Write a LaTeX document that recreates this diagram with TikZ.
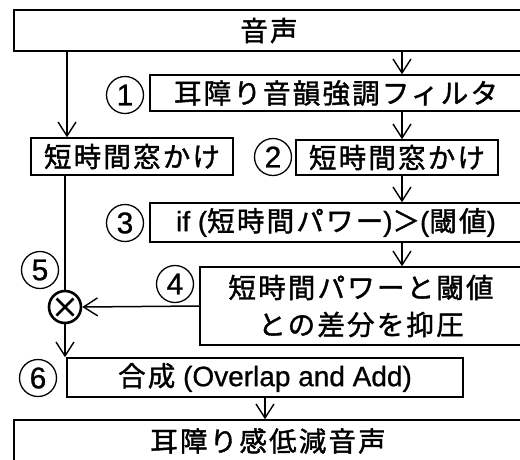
\documentclass[tikz,border=0pt]{standalone}
\usepackage{fontspec}
\setmainfont{Liberation Sans}[FakeBold=0.8]
\newfontfamily\jp[LetterSpace=8,FakeBold=1.4]{Noto Sans CJK JP}
\usetikzlibrary{arrows.meta}
\begin{document}
\begin{tikzpicture}[x=1pt,y=-1pt,line width=1.5pt,
  blk/.style={draw,rectangle,inner sep=0pt,font=\fontsize{27.5}{37}\selectfont\jp},
  lat/.style={font=\fontsize{28}{30}\selectfont\rmfamily},
  num/.style={draw,circle,line width=1.3pt,minimum size=37pt,inner sep=0pt,font=\fontsize{30}{30}\selectfont},
  arr/.style={-{Straight Barb[length=14pt,width=18pt,line width=1.4pt]}},
  mul/.style={draw,circle,line width=2.6pt,minimum size=32pt,inner sep=0pt}]
\useasboundingbox (0,0) rectangle (520,459);
\node[blk,minimum width=510pt,minimum height=41pt] (A) at (269,30.5) {音声};
\node[blk,minimum width=372pt,minimum height=36pt] (B) at (336,93) {耳障り音韻強調フィルタ};
\node[blk,minimum width=202pt,minimum height=37pt] (C) at (132,156.5) {短時間窓かけ};
\node[blk,minimum width=202pt,minimum height=35pt] (D) at (397,157.5) {短時間窓かけ};
\node[blk,minimum width=372pt,minimum height=39pt] (E) at (336,222.5) {{\fontsize{28}{30}\selectfont\rmfamily if (}短時間パワー{\fontsize{28}{30}\selectfont\rmfamily )}＞{\fontsize{28}{30}\selectfont\rmfamily (}閾値{\fontsize{28}{30}\selectfont\rmfamily )}};
\node[blk,minimum width=322pt,minimum height=78pt,align=center] (F) at (361,306) {短時間パワーと閾値\\との差分を抑圧};
\node[blk,minimum width=396pt,minimum height=39pt] (G) at (265,377.5) {合成{\fontsize{28}{30}\selectfont\rmfamily\ (Overlap and Add)}};
\node[blk,minimum width=508pt,minimum height=42pt] (H) at (268,441) {耳障り感低減音声};
\node[mul] (X) at (65,307) {};
\draw[line width=2.6pt] ([shift={(-8.5,-8.5)}]X.center) -- ([shift={(8.5,8.5)}]X.center);
\draw[line width=2.6pt] ([shift={(-8.5,8.5)}]X.center) -- ([shift={(8.5,-8.5)}]X.center);
\node[num] (n1) at (125,95) {1};
\node[num] (n2) at (273,157) {2};
\node[num] (n3) at (125,223) {3};
\node[num] (n4) at (175,284) {4};
\node[num] (n5) at (40,270) {5};
\node[num] (n6) at (38,378) {6};
\coordinate (xl) at (67,0);
\coordinate (xr) at (402,0);
\draw[arr] (A.south -| xl) -- (C.north -| xl);
\draw[arr] (A.south -| xr) -- (B.north -| xr);
\draw[arr] (B.south -| xr) -- (D.north -| xr);
\draw[arr] (D.south -| xr) -- (E.north -| xr);
\draw[arr] (E.south -| xr) -- (F.north -| xr);
\draw (C.south -| X) -- (X.north);
\draw[arr] (F.west) -- (X.east);
\draw[arr] (X.south) -- (G.north -| X);
\draw[arr] (G.south) -- (H.north -| G.south);
\end{tikzpicture}
\end{document}
